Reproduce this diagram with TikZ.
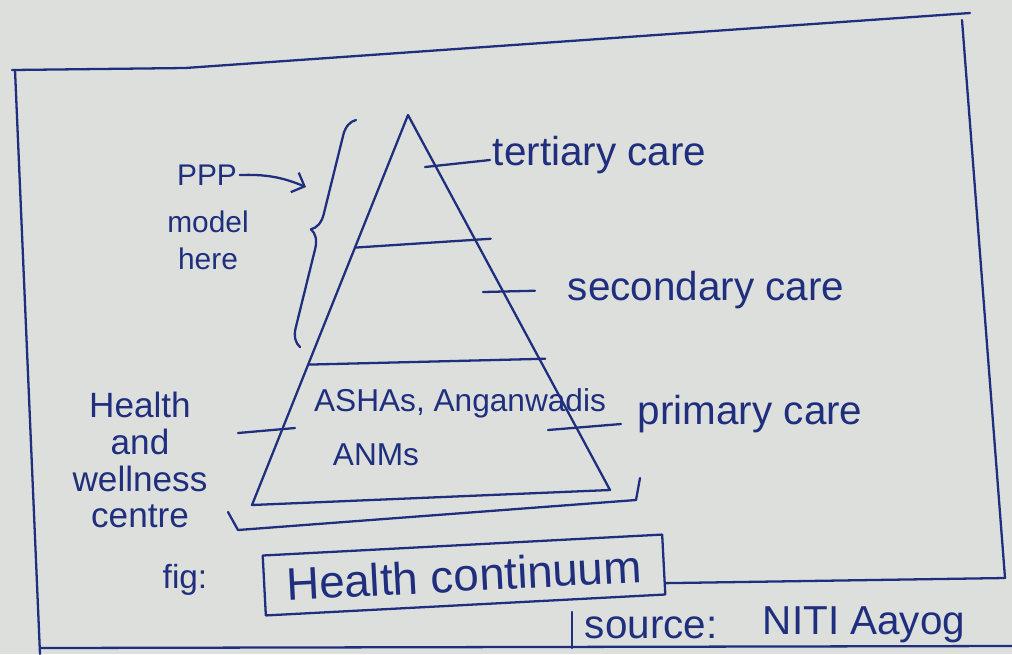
\documentclass[tikz,border=0pt]{standalone}
\usepackage{fontspec}
\setmainfont{Liberation Sans}
\usetikzlibrary{arrows.meta,positioning,calc,decorations.pathreplacing}
\definecolor{ink}{HTML}{1F2F7E}
\definecolor{paper}{HTML}{DCDFDC}

\begin{document}
\begin{tikzpicture}[x=0.2mm,y=-0.2mm,color=ink,line width=1.3pt,line cap=round,line join=round,
    lbl/.style={text=ink,inner sep=1pt,font=\fontsize{23}{27}\selectfont},
    small/.style={lbl,font=\fontsize{17}{21}\selectfont},
    brc/.style={decorate,decoration={brace,amplitude=10pt}}]
      \fill[paper] (0,0) rectangle (1012,654);
      \useasboundingbox (0,0) rectangle (1012,654);
      % page frame
      \draw (12,70) -- (185,68) -- (970,13);
      \draw (15,70) -- (40,654);
      \draw (962,20) -- (1005,578);
      \draw (40,648) -- (1012,646);
      % pyramid
      \coordinate (apex) at (408,115);
      \coordinate (bl) at (252,505);
      \coordinate (br) at (610,490);
      \draw (apex) -- (br) -- (bl) -- cycle;
      \draw ($(apex)!0.34!(bl)$) -- ($(apex)!0.33!(br)+(16,0)$);
      \draw ($(apex)!0.64!(bl)$) -- ($(apex)!0.65!(br)+(6,0)$);
      \node[lbl,anchor=west](tert) at (490,155){tertiary care};
      \node[lbl,anchor=west](sec) at (565,290){secondary care};
      \node[lbl,anchor=west](prim) at (635,414){primary care};
      \coordinate (t1) at (425,167);
      \coordinate (s1) at (483,292);
      \coordinate (p1) at (548,430);
      \coordinate (p2) at ($(prim.west)+(-14,10)$);
      \draw (t1) -- ($(tert.west)+(0,5)$);
      \draw[shorten >=6mm] (s1) -- (sec.west);
      \draw (p1) -- (p2);
      \node[lbl,font=\fontsize{18}{22}\selectfont](asha) at (460,403){ASHAs, Anganwadis};
      \node[lbl,font=\fontsize{18}{22}\selectfont](anm) at (376,455){ANMs};
      \node[lbl,align=center,font=\fontsize{20}{21}\selectfont](hwc) at (140,460){Health\\and\\wellness\\centre};
      \coordinate (h1) at (238,433);
      \coordinate (h2) at (295,428);
      \draw (h1) -- (h2);
      \coordinate (k1) at (228,512);
      \coordinate (k2) at (238,530);
      \coordinate (k3) at (636,500);
      \coordinate (k4) at (640,478);
      \draw (k1) -- (k2) -- (k3) -- (k4);
      % PPP brace
      \draw[brc] (300,347) -- (356,120);
      \node[small](ppp) at (207,175){PPP};
      \node[small,align=center](model) at (208,240){model\\here};
      \coordinate (pend) at (306,187);
      \draw[-{Straight Barb[length=6pt,width=12pt]}] (ppp.east) to[bend left=12] (pend);
      % caption
      \node[lbl,font=\fontsize{19}{23}\selectfont](fig) at (185,580){fig:};
      \node[draw,lbl,rotate=3,minimum width=80mm,minimum height=12mm,font=\fontsize{26}{30}\selectfont](cap) at (464,575){Health continuum};
      \coordinate (rend) at (1005,578);
      \draw ($(cap.south east)!0.2!(cap.north east)$) -- (rend);
      \coordinate (stop) at (572,612);
      \coordinate (sbot) at (572,648);
      \draw (stop) -- (sbot);
      \node[lbl,anchor=west](src) at (582,628){source:};
      \node[lbl,anchor=west](niti) at (760,625){NITI Aayog};
\end{tikzpicture}
\end{document}
